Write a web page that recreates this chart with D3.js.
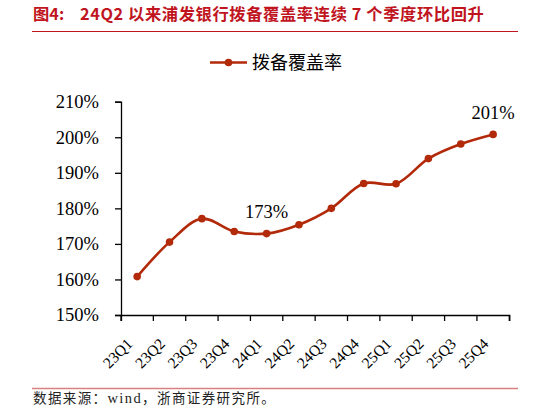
<!DOCTYPE html>
<html><head><meta charset="utf-8">
<script src="https://cdn.jsdelivr.net/npm/d3@7"></script>
<style>body{margin:0;background:#fff;}svg{display:block;}</style>
</head><body>
<svg id="c" width="548" height="413"></svg>
<script>
const categories = ["23Q1","23Q2","23Q3","23Q4","24Q1","24Q2","24Q3","24Q4","25Q1","25Q2","25Q3","25Q4"];
const values = [160.8,170.5,177.1,173.5,172.9,175.4,180.0,187.0,186.9,194.0,198.1,200.8];
const yTicks = [150,160,170,180,190,200,210];
const seriesName = "拨备覆盖率";
const annotations = [{i:4, text:"173%"},{i:11, text:"201%"}];

const svg = d3.select("#c");
const serif = "'Liberation Serif','Times New Roman',serif";
const cjk = "'Noto Sans CJK SC','Noto Sans CJK JP',sans-serif";
const lineColor = "#B22A0A";

// Title
const title = svg.append("text").attr("y",20)
  .attr("font-family",cjk).attr("font-weight","bold").attr("font-size",16.3)
  .attr("fill","#C0141E");
title.append("tspan").attr("x",33).text("图4:");
title.append("tspan").attr("x",80).attr("letter-spacing",0.6).text("24Q2 以来浦发银行拨备覆盖率连续 7 个季度环比回升");
svg.append("line").attr("x1",32).attr("x2",518).attr("y1",31.5).attr("y2",31.5)
  .attr("stroke","#C0141E").attr("stroke-width",1.2);

// Footer
svg.append("line").attr("x1",32).attr("x2",518).attr("y1",388.5).attr("y2",388.5)
  .attr("stroke","#D98080").attr("stroke-width",1.5);
const foot = svg.append("text").attr("x",33).attr("y",403)
  .attr("font-family",cjk).attr("font-size",13.5).attr("fill","#222").attr("letter-spacing",1.4);
foot.append("tspan").text("数据来源：");
foot.append("tspan").attr("font-family",serif).attr("font-size",14.5).text("wind");
foot.append("tspan").text("，浙商证券研究所。");

// Scales
const x = d3.scaleBand().domain(categories).range([121,509.3]);
const y = d3.scaleLinear().domain([150,210]).range([315,101.7]);

// Y axis
const yAxis = d3.axisLeft(y).tickValues(yTicks).tickSize(6).tickPadding(16).tickFormat(d=>d+"%");
const gy = svg.append("g").attr("transform","translate(121,0)").call(yAxis);
gy.selectAll("text").attr("font-family",serif).attr("font-size",18.5).attr("fill","#000");
gy.selectAll("line,path").attr("stroke","#000").attr("stroke-width",1.3);

// X axis
const xAxis = d3.axisBottom(x).tickSize(6).tickFormat("");
const gx = svg.append("g").attr("transform","translate(0,315)").call(xAxis);
gx.selectAll("line,path").attr("stroke","#000").attr("stroke-width",1.3);
gx.selectAll(".tick").remove();
const bounds = categories.map(c=>x(c)).concat([x.range()[1]]);
gx.selectAll(".bt").data(bounds).enter().append("line")
  .attr("x1",d=>d).attr("x2",d=>d).attr("y1",0).attr("y2",6)
  .attr("stroke","#000").attr("stroke-width",1.3);
gx.selectAll(".lbl").data(categories).enter().append("text")
  .attr("transform",d=>`translate(${x(d)+x.bandwidth()/2-7.5},${26}) rotate(-45)`)
  .attr("text-anchor","end").attr("dy","0.35em")
  .attr("font-family",serif).attr("font-size",15.5).attr("fill","#000")
  .text(d=>d);

// Line
const cx = i => x(categories[i]) + x.bandwidth()/2;
const line = d3.line().x((d,i)=>cx(i)).y(d=>y(d)).curve(d3.curveCatmullRom.alpha(0.5));
svg.append("path").datum(values).attr("d",line).attr("fill","none")
  .attr("stroke",lineColor).attr("stroke-width",2.6);
svg.selectAll(".pt").data(values).enter().append("circle")
  .attr("cx",(d,i)=>cx(i)).attr("cy",d=>y(d)).attr("r",3.8).attr("fill",lineColor);

// Annotations
svg.selectAll(".ann").data(annotations).enter().append("text")
  .attr("x",d=>cx(d.i)).attr("y",d=>y(values[d.i]) - 15.5)
  .attr("text-anchor","middle").attr("font-family",serif).attr("font-size",18.5).attr("fill","#000")
  .text(d=>d.text);

// Legend
svg.append("line").attr("x1",210).attr("x2",247).attr("y1",62.5).attr("y2",62.5)
  .attr("stroke",lineColor).attr("stroke-width",2.6);
svg.append("circle").attr("cx",228.5).attr("cy",62.5).attr("r",3.8).attr("fill",lineColor);
svg.append("text").attr("x",252).attr("y",69).attr("font-family",cjk).attr("font-size",18)
  .attr("fill","#000").text(seriesName);
</script>
</body></html>
